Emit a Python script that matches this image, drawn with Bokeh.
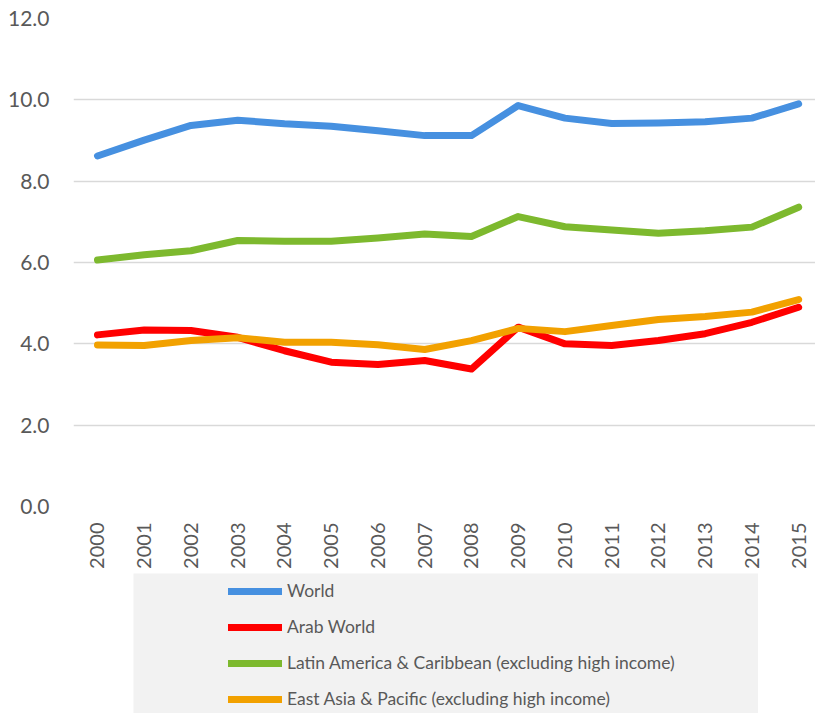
from bokeh.plotting import figure
from bokeh.models import Legend, LegendItem, Range1d, FixedTicker, Spacer
from bokeh.layouts import column, row
from bokeh.embed import file_html
from bokeh.resources import INLINE

years = [str(y) for y in range(2000, 2016)]
world = [8.62, 9.01, 9.37, 9.50, 9.41, 9.35, 9.24, 9.12, 9.12, 9.86, 9.55, 9.42, 9.43, 9.46, 9.55, 9.90]
arab = [4.22, 4.34, 4.33, 4.16, 3.83, 3.55, 3.49, 3.59, 3.38, 4.41, 4.00, 3.96, 4.08, 4.25, 4.53, 4.90]
latam = [6.06, 6.19, 6.29, 6.54, 6.52, 6.52, 6.60, 6.70, 6.64, 7.13, 6.88, 6.80, 6.72, 6.78, 6.87, 7.36]
eap = [3.97, 3.96, 4.08, 4.15, 4.04, 4.04, 3.98, 3.86, 4.08, 4.38, 4.30, 4.45, 4.60, 4.67, 4.78, 5.09]

series_names = ["World", "Arab World",
                "Latin America & Caribbean (excluding high income)",
                "East Asia & Pacific (excluding high income)"]
series_values = [world, arab, latam, eap]
colors = ["#4690E0", "#FF0000", "#7DB92E", "#F2A100"]
y_ticks = [0, 2, 4, 6, 8, 10, 12]

FONT = "Lato"
TEXT = "#595959"

xs = list(range(len(years)))

p = figure(width=815, height=573, output_backend="svg", toolbar_location=None,
           x_range=Range1d(-0.513, 15.36), y_range=Range1d(0, 12),
           min_border_left=73, min_border_right=0, min_border_top=18, min_border_bottom=67)
p.outline_line_color = None
p.background_fill_color = "white"
p.border_fill_color = "white"

# draw order: world, latam, arab, eap (orange on top)
for idx in [0, 2, 1, 3]:
    p.line(xs, series_values[idx], line_color=colors[idx], line_width=7,
           line_join="round", line_cap="round")

p.xaxis.ticker = FixedTicker(ticks=xs)
p.xaxis.major_label_overrides = {i: y for i, y in enumerate(years)}
p.xaxis.major_label_orientation = 1.5708
p.xaxis.axis_line_color = None
p.xaxis.major_tick_line_color = None
p.xaxis.minor_tick_line_color = None
p.xaxis.major_label_text_font = FONT
p.xaxis.major_label_text_font_size = "20px"
p.xaxis.major_label_text_color = TEXT
p.xaxis.major_label_standoff = 10

p.yaxis.ticker = FixedTicker(ticks=y_ticks)
p.yaxis.major_label_overrides = {t: f"{t:.1f}" for t in y_ticks}
p.yaxis.axis_line_color = None
p.yaxis.major_tick_line_color = None
p.yaxis.minor_tick_line_color = None
p.yaxis.major_label_text_font = FONT
p.yaxis.major_label_text_font_size = "21px"
p.yaxis.major_label_text_color = TEXT
p.yaxis.major_label_standoff = 18

p.xgrid.grid_line_color = None
p.ygrid.ticker = FixedTicker(ticks=y_ticks)
p.ygrid.grid_line_color = "#D9D9D9"
p.ygrid.grid_line_width = 1.5

# legend panel (proxy renderers of the same series, kept out of view)
lf = figure(width=625, height=140, output_backend="svg", toolbar_location=None,
            x_range=Range1d(-200, -199), y_range=Range1d(0, 1),
            min_border_left=0, min_border_right=0, min_border_top=0, min_border_bottom=0)
lf.axis.visible = False
lf.grid.visible = False
lf.outline_line_color = None
lf.background_fill_color = "#F2F2F2"
lf.border_fill_color = "#F2F2F2"

items = []
for name, col, vals in zip(series_names, colors, series_values):
    r = lf.line(xs, vals, line_color=col, line_width=7, line_cap="round")
    items.append(LegendItem(label=name, renderers=[r]))

leg = Legend(items=items, location=(95, 4), padding=0, margin=0,
             border_line_color=None, background_fill_alpha=0,
             glyph_width=54, glyph_height=20, label_standoff=5,
             spacing=15, label_text_font=FONT, label_text_font_size="17.5px",
             label_text_color=TEXT, label_height=20)
lf.add_layout(leg)

layout = column(p, row(Spacer(width=133, height=140), lf))

open("out.html", "w").write(file_html(layout, INLINE))
